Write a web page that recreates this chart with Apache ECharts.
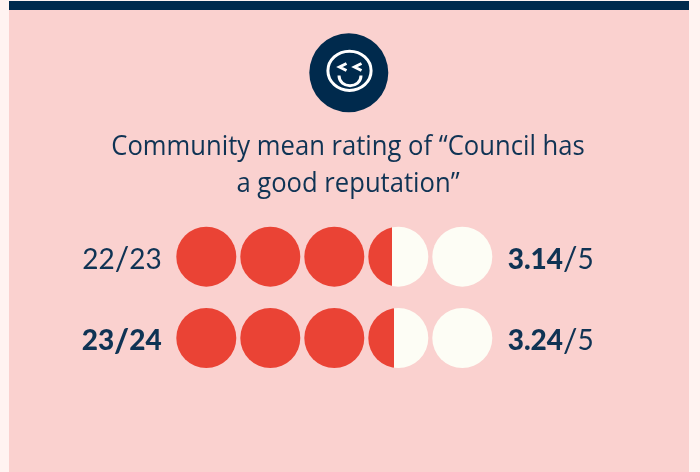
<!DOCTYPE html>
<html>
<head>
<meta charset="utf-8">
<style>html,body{margin:0;padding:0;background:#fff3f1}#c{width:700px;height:472px}</style>
<script src="https://cdn.jsdelivr.net/npm/echarts@6/dist/echarts.min.js"></script>
</head>
<body>
<div id="c"></div>
<script>
const titleLines = ['Community mean rating of “Council has', 'a good reputation”'];
const periods = ['22/23', '23/24'];
const ratings = ['3.14', '3.24'];
const scaleMax = '5';
const slots = [1, 2, 3, 4, 5];
const fill2223 = [1, 1, 1, 0.40, 0];
const fill2324 = [1, 1, 1, 0.43, 0];
const fills = [fill2223, fill2324];

const RED = '#ea4335', CREAM = '#fdfdf5', NAVY = '#002a4d', TEXT = '#0f3354';
const FONT = '"Open Sans", "Noto Sans", sans-serif';
const LABEL_FONT = 'Lato, "Open Sans", sans-serif';

function splitColor(f) {
  if (f >= 1) return RED;
  if (f <= 0) return CREAM;
  return new echarts.graphic.LinearGradient(0, 0, 1, 0, [
    {offset: 0, color: RED}, {offset: f, color: RED},
    {offset: f, color: CREAM}, {offset: 1, color: CREAM}
  ]);
}
const dots = [];
fills.forEach((row, r) => row.forEach((f, i) => {
  dots.push({value: [slots[i], periods[r]], itemStyle: {color: splitColor(f), opacity: 1}});
}));

const textRich = {
  reg: {fontFamily: LABEL_FONT, fontSize: 28, color: TEXT, fontWeight: 400},
  bold: {fontFamily: LABEL_FONT, fontSize: 28, color: TEXT, fontWeight: 900},
  sl: {fontFamily: LABEL_FONT, fontSize: 32, color: TEXT, fontWeight: 400},
  slb: {fontFamily: LABEL_FONT, fontSize: 32, color: TEXT, fontWeight: 900}
};
const periodLabel = (v, i) => {
  const [a, b] = v.split('/');
  return i === 1
    ? '{bold|' + a + '}{slb|/}{bold|' + b + '}'
    : '{reg|' + a + '}{sl|/}{reg|' + b + '}';
};
const chart = echarts.init(document.getElementById('c'), null, {renderer: 'canvas'});
chart.setOption({
  animation: false,
  backgroundColor: '#fff3f1',
  grid: {left: 174.3, top: 216, width: 320, height: 162.6, containLabel: false},
  xAxis: {type: 'value', min: 0.5, max: 5.5, show: false},
  yAxis: [{
    type: 'category', data: periods, inverse: true, position: 'left',
    axisLine: {show: false}, axisTick: {show: false}, splitLine: {show: false},
    axisLabel: {margin: 12.6, padding: [7, 0, 0, 0], formatter: periodLabel, rich: textRich}
  }, {
    type: 'category', data: periods, inverse: true, position: 'right',
    axisLine: {show: false}, axisTick: {show: false}, splitLine: {show: false},
    axisLabel: {margin: 13.4, padding: [7, 0, 0, 0], formatter: (v, i) => '{bold|' + ratings[i] + '}{sl|/}{reg|' + scaleMax + '}', rich: textRich}
  }],
  series: [{
    type: 'scatter', yAxisIndex: 0, symbol: 'circle', symbolSize: 60, data: dots, clip: false,
    silent: true
  }],
  graphic: [
    {type: 'rect', z: -10, shape: {x: 9, y: 1, width: 680, height: 471}, style: {fill: '#fad1cf'}},
    {type: 'rect', z: -9, shape: {x: 9, y: 1, width: 680, height: 9}, style: {fill: NAVY}},
    {type: 'text', x: 348, y: 129, scaleX: 0.915, style: {text: titleLines.join('\n'), textAlign: 'center', fontFamily: FONT, fontSize: 28, fontWeight: 400, fill: TEXT, lineHeight: 37}},
    {type: 'circle', shape: {cx: 348.8, cy: 72.8, r: 39.5}, style: {fill: NAVY}},
    {type: 'ellipse', shape: {cx: 349.5, cy: 70.8, rx: 21.6, ry: 19.6}, style: {fill: 'none', stroke: '#fff', lineWidth: 3}},
    {type: 'polyline', shape: {points: [[346.5, 63.5], [339.5, 67], [346.5, 70.5]]}, style: {fill: 'none', stroke: '#fff', lineWidth: 3}},
    {type: 'polyline', shape: {points: [[361.5, 63.5], [354.5, 67], [361.5, 70.5]]}, style: {fill: 'none', stroke: '#fff', lineWidth: 3}},
    {type: 'bezierCurve', shape: {x1: 339, y1: 75.5, cpx1: 339, cpy1: 89, cpx2: 361, cpy2: 89, x2: 361, y2: 75.5}, style: {fill: 'none', stroke: '#fff', lineWidth: 3}}
  ]
});
</script>
</body>
</html>
